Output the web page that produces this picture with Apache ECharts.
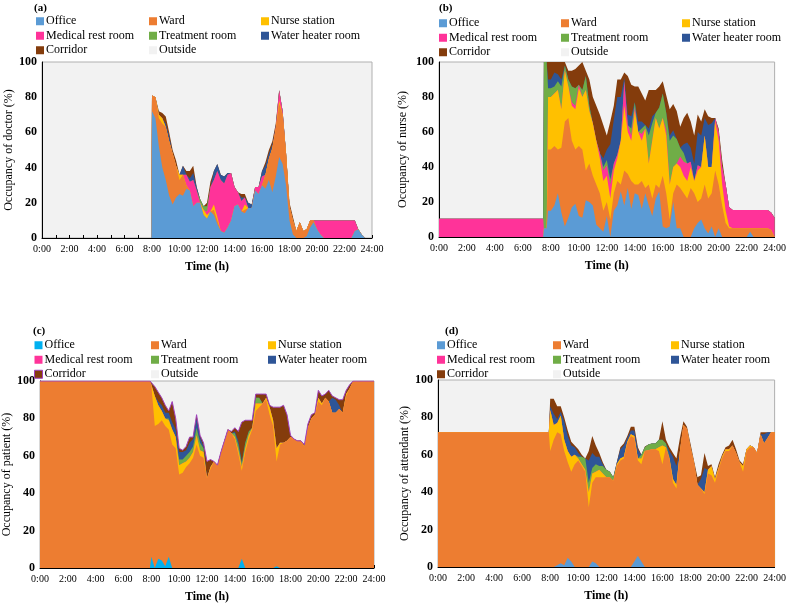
<!DOCTYPE html>
<html>
<head>
<meta charset="utf-8">
<script src="https://cdn.jsdelivr.net/npm/echarts@6/dist/echarts.min.js"></script>
<style>
html,body{margin:0;padding:0;background:#fff;}
#main{width:789px;height:605px;}
</style>
</head>
<body>
<div id="main"></div>
<script>
// rooms, in stacking order (bottom -> top)
var rooms = ['Office', 'Ward', 'Nurse station', 'Medical rest room', 'Treatment room', 'Water heater room', 'Corridor'];
var roomColors = ['#5b9bd5', '#ed7d31', '#ffc000', '#ff3399', '#70ad47', '#2e5597', '#843c0c'];
var panelTitles = ['(a)', '(b)', '(c)', '(d)'];
var yNames = ['Occupancy of doctor (%)', 'Occupancy of nurse (%)', 'Occupancy of patient (%)', 'Occupancy of attendant (%)'];
var hourLabels = ['0:00','2:00','4:00','6:00','8:00','10:00','12:00','14:00','16:00','18:00','20:00','22:00','24:00'];

// each row: [hour, Office, Ward, Nurse station, Medical rest room, Treatment room, Water heater room, Corridor] (%)
var doctorRows = [
 [0,0,0,0,0,0,0,0],[7.95,0,0,0,0,0,0,0],
 [8,72,9,0,0,0,0,0],[8.25,68,12,0,0,0,0,0],[8.5,52,16,2,0,0,0,2],[8.75,40,25,3,0,0,0,3],
 [9,33,30,0,0,0,2,4],[9.25,24,31,0,0,0,3,2],[9.5,19,29,0,0,0,0,2],[9.75,23,18,0,0,0,0,3],
 [10,25,8,3,0,0,0,0],[10.25,24,12,0,0,0,5,0],[10.5,28,2,0,6,0,0,2],[10.75,27,0,0,5,0,2,4],
 [11,18,0,0,15,0,4,4],[11.25,20,0,0,7,0,2,0],[11.5,20,0,0,0,2,0,0],[11.75,13,0,3,0,2,0,0],
 [12,11,0,2,2,3,0,2],[12.25,15,0,0,14,0,0,3],[12.5,13,3,3,14,0,5,0],[12.75,8,2,2,26,0,4,0],
 [13,4,0,0,29,0,3,0],[13.25,3,0,0,28,0,4,0],[13.5,6,0,0,30,0,1,0],[13.75,10,0,0,27,0,0,0],
 [14,18,0,0,11,0,0,0],[14.25,19,0,0,7,0,0,0],[14.5,15,0,0,6,0,2,2],[14.75,14,2,3,4,0,0,2],
 [15,17,0,0,0,0,3,0],[15.25,17,0,0,0,0,2,0],[15.5,27,0,0,2,0,0,0],[15.75,25,0,0,4,0,0,0],
 [16,30,0,0,5,0,3,0],[16.25,28,8,0,0,0,5,2],[16.5,33,12,0,0,0,3,2],[16.75,26,25,0,0,0,2,2],
 [17,35,27,0,1,0,0,2],[17.25,46,30,2,6,0,0,0],[17.5,42,28,0,2,0,0,0],[17.75,30,18,0,0,0,0,0],
 [18,10,8,0,0,0,0,2],[18.25,2,8,0,0,0,0,2],[18.5,0,4,0,0,0,0,0],[18.75,0,9,0,0,0,0,0],
 [19,0,4,0,0,0,0,0],[19.25,1,4,0,0,0,0,0],[19.5,6,4,0,0,0,0,0],[19.75,9,1,0,0,0,0,0],
 [20,5,0,0,5,0,0,0],[20.25,2,0,0,8,0,0,0],[20.5,0,0,0,10,0,0,0],[20.75,0,0,0,10,0,0,0],
 [21,0,0,0,10,0,0,0],[21.25,0,0,0,10,0,0,0],[21.5,0,0,0,10,0,0,0],[21.75,0,0,0,10,0,0,0],
 [22,0,0,0,10,0,0,0],[22.25,0,0,0,10,0,0,0],[22.5,0,0,0,10,0,0,0],[22.75,4,0,0,6,0,0,0],
 [23,5,0,0,0,0,0,0],[23.25,2,0,0,0,0,0,0],[23.5,0,0,0,0,0,0,0],[23.75,0,0,0,0,0,0,0],
 [24,0,0,0,0,0,0,0]
];

var nurseRows = [
 [0,0,0,0,10.5,0,0,0],[7.45,0,0,0,10.5,0,0,0],[7.5,5,0,0,0,95,0,0],[7.7,5,0,0,0,95,0,0],
 [7.8,15,35,30,0,5,5,10],
 [8,15,35,30,0,5,5,10],[8.25,18,34,30,0,4,8,6],[8.5,25,25,34,0,5,4,7],[8.75,14,37,22,0,13,4,10],
 [9,6,60,29,0,3,0,2],[9.25,11,57,18,0,4,0,5],[9.5,17,38,20,2,9,0,9],[9.75,19,31,23,2,10,0,11],
 [10,12,40,33,2,0,0,11],[10.25,11,39,30,0,4,0,16],[10.5,21,17,46,0,8,0,3],[10.75,20,22,30,0,3,0,15],
 [11,18,17,30,0,0,0,15],[11.25,7,23,25,0,0,0,20],[11.5,5,20,20,3,0,0,22],[11.75,3,12,17,6,2,5,19],
 [12,12,8,15,6,3,6,8],[12.25,0,10,12,8,3,20,13],[12.5,15,10,13,4,0,25,8],[12.75,18,14,13,2,0,33,10],
 [13,26,4,25,0,0,25,10],[13.25,18,20,37,14,0,2,3],[13.5,28,8,24,4,0,6,22],[13.75,16,16,23,3,4,7,18],
 [14,25,5,42,2,3,0,9],[14.25,24,6,30,0,0,6,20],[14.5,16,16,23,4,3,4,16],[14.75,25,3,34,0,2,0,14],
 [15,18,12,12,0,16,4,22],[15.25,12,10,33,0,10,4,15],[15.5,22,8,38,0,3,0,13],[15.75,26,2,34,0,12,0,12],
 [16,6,29,33,0,14,0,7],[16.25,5,20,33,3,10,0,10],[16.5,6,4,20,0,25,3,15],[16.75,20,5,15,0,18,3,15],
 [17,5,25,12,0,14,0,16],[17.25,5,23,12,6,5,0,12],[17.5,0,25,10,8,5,5,15],[17.75,0,22,10,10,0,12,17],
 [18,0,28,12,3,0,8,15],[18.25,5,20,7,0,0,10,16],[18.5,8,12,18,3,0,19,10],[18.75,10,12,18,0,0,18,8],
 [19,5,25,28,0,0,10,5],[19.25,2,20,18,0,0,24,5],[19.5,6,19,15,0,0,25,3],[19.75,0,38,28,2,0,0,0],
 [20,5,25,25,5,0,0,2],[20.25,0,18,12,10,0,0,4],[20.5,0,8,7,15,0,0,0],[20.75,0,5,1,11,0,0,0],
 [21,0,5,0,10.5,0,0,0],[21.25,0,5,0,10.5,0,0,0],[21.5,0,5,0,10.5,0,0,0],[21.75,0,5,0,10.5,0,0,0],
 [22,0,5,0,10.5,0,0,0],[22.25,3,2,0,10.5,0,0,0],[22.5,0,5,0,10.5,0,0,0],[22.75,0,5,0,10.5,0,0,0],
 [23,0,5,0,10.5,0,0,0],[23.25,0,5,0,10.5,0,0,0],[23.5,0,5,0,10.5,0,0,0],[23.75,0,4,0,10,0,0,0],
 [24,0,0,0,11,0,0,0]
];

var patientRows = [
 [0,0,100,0,0,0,0,0],[7.9,0,100,0,0,0,0,0],
 [8,6,92,0,0,0,0,2],[8.25,0,76,16,0,0,0,5],[8.5,5,72,10,0,0,2,5],[8.75,4,75,5,0,0,3,4],
 [9,1,75,4,0,0,3,4],[9.25,6,68,5,0,1,3,1],[9.5,0,66,8,0,0,4,11],[9.75,0,64,6,0,0,4,6],
 [10,0,50,5,0,3,4,2],[10.25,0,51,5,0,2,4,1],[10.5,0,54,3,0,3,3,2],[10.75,0,56,3,0,3,5,3],
 [11,0,59,3,0,3,4,1],[11.25,0,66,5,0,4,5,2],[11.5,0,60,3,0,4,3,1],[11.75,0,59,3,0,2,1,2],
 [12,0,48,0,0,0,0,9],[12.25,0,53,1,0,0,0,4],[12.5,0,57,0,0,0,0,0],[12.75,0,55,0,0,0,0,0],
 [13,0,62,0,0,0,0,0],[13.25,0,68,0,0,0,0,0],[13.5,0,74,0,0,0,0,0],[13.75,0,72,0,0,0,0,1],
 [14,0,69,1,0,2,1,2],[14.25,0,61,2,0,3,2,5],[14.5,5,47,2,0,2,1,21],[14.75,0,62,2,0,3,0,12],
 [15,0,69,2,0,2,0,6],[15.25,0,74,1,0,0,0,4],[15.5,0,84,4,0,3,0,2],[15.75,0,86,2,0,3,0,2],
 [16,0,88,0,0,0,0,5],[16.25,0,90,1,0,0,0,2],[16.5,0,82,4,0,0,0,1],[16.75,0,76,3,0,0,0,7],
 [17,1,56,7,0,0,0,22],[17.25,0,66,1,0,0,0,19],[17.5,0,67,0,0,0,0,20],[17.75,0,68,0,0,0,0,14],
 [18,0,70,0,0,0,0,1],[18.25,0,69,0,0,0,0,0],[18.5,0,68,0,0,0,0,0],[18.75,0,68,0,0,0,0,0],
 [19,0,65,0,0,0,0,1],[19.25,0,75,0,0,0,0,2],[19.5,0,80,0,0,0,0,2],[19.75,0,82,0,0,0,0,1],
 [20,0,89,2,0,0,0,4],[20.25,0,87,1,0,0,0,4],[20.5,0,91,0,0,0,0,2],[20.75,0,89,0,0,0,0,6],
 [21,0,83,0,0,0,8,1],[21.25,0,83,0,0,0,7,1],[21.5,0,85,0,0,0,2,3],[21.75,0,83,0,0,0,0,7],
 [22,0,92,1,0,0,0,2],[22.25,0,96,0,0,0,0,2],[22.5,0,100,0,0,0,0,0],[22.75,0,100,0,0,0,0,0],
 [23,0,100,0,0,0,0,0],[23.25,0,100,0,0,0,0,0],[23.5,0,100,0,0,0,0,0],[23.75,0,100,0,0,0,0,0],
 [24,0,100,0,0,0,0,0]
];

var attendantRows = [
 [0,0,72,0,0,0,0,0],[7.9,0,72,0,0,0,0,0],
 [8,0,62,22,0,0,2,4],[8.25,0,68,8,0,0,6,8],[8.5,1,71,5,0,0,2,7],[8.75,2,69,10,0,0,2,3],
 [9,1,61,6,0,0,10,2],[9.25,5,51,6,0,0,8,3],[9.5,3,48,8,0,0,6,2],[9.75,0,55,5,0,0,4,1],
 [10,0,57,1,0,1,2,2],[10.25,0,54,1,0,4,0,1],[10.5,0,51,1,0,6,0,0],[10.75,0,32,8,0,5,12,5],
 [11,3,42,5,0,3,8,9],[11.25,2,46,3,0,4,4,6],[11.5,0,48,4,0,2,5,2],[11.75,0,48,2,0,4,1,1],
 [12,0,48,0,0,4,0,0],[12.25,0,48,0,0,3,0,0],[12.5,0,46,0,0,2,0,0],[12.75,0,54,1,0,0,1,0],
 [13,0,57,1,0,0,5,1],[13.25,0,58,1,0,0,6,1],[13.5,0,66,1,0,0,2,1],[13.75,0,70,1,0,0,2,2],
 [14,3,66,1,0,0,3,2],[14.25,6,51,1,0,0,5,1],[14.5,3,52,3,0,2,0,0],[14.75,0,62,0,0,2,0,0.5],
 [15,0,62.5,0,0,3,0,0],[15.25,0,63,0,0,3,0,0],[15.5,0,63,0,0,3,0,0],[15.75,0,62,2,0,4,0,0],
 [16,0,55,10,0,3,0,10],[16.25,0,64,0,0,2,0,2],[16.5,0,58,0,0,1,3,2],[16.75,0,45,2,0,0,12,2],
 [17,0,42,2,0,0,10,4],[17.25,0,62,0,0,0,0,7],[17.5,0,76,0,0,0,0,2],[17.75,0,74,0,0,0,0,1],
 [18,0,64,0,0,0,0,2],[18.25,0,56,0,0,0,0,1],[18.5,0,44,0,0,0,0,4],[18.75,0,42,0,0,0,5,2],
 [19,0,39,1,0,0,13,8],[19.25,0,50,2,0,0,0,2],[19.5,0,49,5,0,0,0,1],[19.75,0,45,2,0,0,0,1],
 [20,0,52,1,0,0,0,2],[20.25,0,58,1,0,0,0,1],[20.5,0,62,1,0,0,0,1],[20.75,0,62,1,0,0,0,2],
 [21,0,65,0,0,0,0,3],[21.25,0,61,0,0,0,0,2],[21.5,0,56,0,0,0,0,1],[21.75,0,51,3,0,0,0,1],
 [22,0,62,1,0,0,0,0],[22.25,0,64,1,0,0,0,0],[22.5,0,64,0,0,0,0,0],[22.75,0,61,0,0,0,0,0],
 [23,0,71,0,0,0,0,1],[23.25,0,66,0,0,0,5,1],[23.5,0,69,0,0,0,3,0],[23.75,0,72,0,0,0,0,0],
 [24,0,72,0,0,0,0,0]
];

var panelRows = [doctorRows, nurseRows, patientRows, attendantRows];

var serif = 'Liberation Serif';
var grids = [
  {left: 42, top: 62, width: 330, height: 176},
  {left: 439, top: 62, width: 338, height: 175},
  {left: 38, top: 381, width: 336, height: 187},
  {left: 438, top: 380, width: 339, height: 187}
];
var titlePos = [[29, -2], [434, -2], [28, 321], [440, 321]];
var legendCols = [
  ['Office', 'Medical rest room', 'Corridor'],
  ['Ward', 'Treatment room', 'Outside'],
  ['Nurse station', 'Water heater room']
];
var legendPos = [
  {top: 15, left: [36, 149, 261]},
  {top: 17, left: [439, 561, 682]},
  {top: 339, left: [34, 151, 268]},
  {top: 339, left: [437, 553, 671]}
];
var yNameGap = [27, 30, 27, 27];

function colorOf(p, name) {
  if (name === 'Outside') return '#f2f2f2';
  if (p === 2 && name === 'Office') return '#00b0f0';
  return roomColors[rooms.indexOf(name)];
}

var chart = echarts.init(document.getElementById('main'));
var option = {
  animation: false,
  backgroundColor: '#fff',
  title: [], grid: [], xAxis: [], yAxis: [], legend: [], series: []
};

for (var p = 0; p < 4; p++) {
  option.title.push({
    text: panelTitles[p], left: titlePos[p][0], top: titlePos[p][1],
    textStyle: {fontFamily: serif, fontWeight: 'bold', fontSize: 11, color: '#000'}
  });
  option.grid.push({
    left: grids[p].left, top: grids[p].top, width: grids[p].width, height: grids[p].height,
    show: true, backgroundColor: '#f2f2f2', borderColor: '#b0b0b0', borderWidth: 1
  });
  option.xAxis.push({
    type: 'value', gridIndex: p, min: 0, max: 24, interval: 1,
    name: 'Time (h)', nameLocation: 'middle', nameGap: 23,
    nameTextStyle: {fontFamily: serif, fontWeight: 'bold', fontSize: 12, color: '#000'},
    axisLine: {show: true, onZero: false, lineStyle: {color: '#000', width: 1}},
    axisTick: {show: true, inside: true, length: 3, lineStyle: {color: '#000'}},
    axisLabel: {
      fontFamily: serif, fontSize: 10, color: '#000', margin: 6,
      formatter: function (v) { return v % 2 === 0 ? hourLabels[v / 2] : ''; }
    },
    splitLine: {show: false}
  });
  option.yAxis.push({
    type: 'value', gridIndex: p, min: 0, max: 100, interval: 20,
    name: yNames[p], nameLocation: 'middle', nameGap: yNameGap[p],
    nameTextStyle: {fontFamily: serif, fontSize: 12, color: '#000'},
    axisLine: {show: true, lineStyle: {color: '#000', width: 1}},
    axisTick: {show: false},
    axisLabel: {fontFamily: serif, fontWeight: 'bold', fontSize: 12, color: '#000', margin: 5},
    splitLine: {show: false}
  });
  for (var c = 0; c < legendCols.length; c++) {
    option.legend.push({
      orient: 'vertical', left: legendPos[p].left[c], top: legendPos[p].top,
      icon: 'rect', itemWidth: 8, itemHeight: 8, itemGap: 2, padding: 0,
      selectedMode: false,
      textStyle: {fontFamily: serif, fontSize: 12, color: '#000', lineHeight: 12.5, padding: [0, 0, 0, -3]},
      data: legendCols[c].map(function (n) {
        var it = {name: n, itemStyle: {color: colorOf(p, n), borderWidth: 0}};
        if (p === 2 && n === 'Corridor') it.itemStyle = {color: '#843c0c', borderColor: '#a040c0', borderWidth: 1};
        return it;
      })
    });
  }
  // running totals of the read shares, so each room's band sits on the ones below it;
  // the top room is pushed first so the lower bands paint over it
  var rows = panelRows[p];
  for (var k = rooms.length - 1; k >= 0; k--) {
    var col = colorOf(p, rooms[k]);
    var line = {width: 0};
    if (p === 2 && rooms[k] === 'Corridor') line = {width: 1, color: '#a040c0'};
    option.series.push({
      name: rooms[k], type: 'line', xAxisIndex: p, yAxisIndex: p,
      symbol: 'none', showSymbol: false, silent: true,
      lineStyle: line, itemStyle: {color: col},
      areaStyle: {color: col, opacity: 1, origin: 'start'},
      data: rows.map(function (r) {
        var s = 0;
        for (var j = 1; j <= k + 1; j++) s += r[j];
        return [r[0], Math.min(s, 100)];
      })
    });
  }
}
option.series.push({
  name: 'Outside', type: 'line', xAxisIndex: 0, yAxisIndex: 0, symbol: 'none',
  itemStyle: {color: '#f2f2f2'}, lineStyle: {width: 0}, data: []
});

chart.setOption(option);
</script>
</body>
</html>
